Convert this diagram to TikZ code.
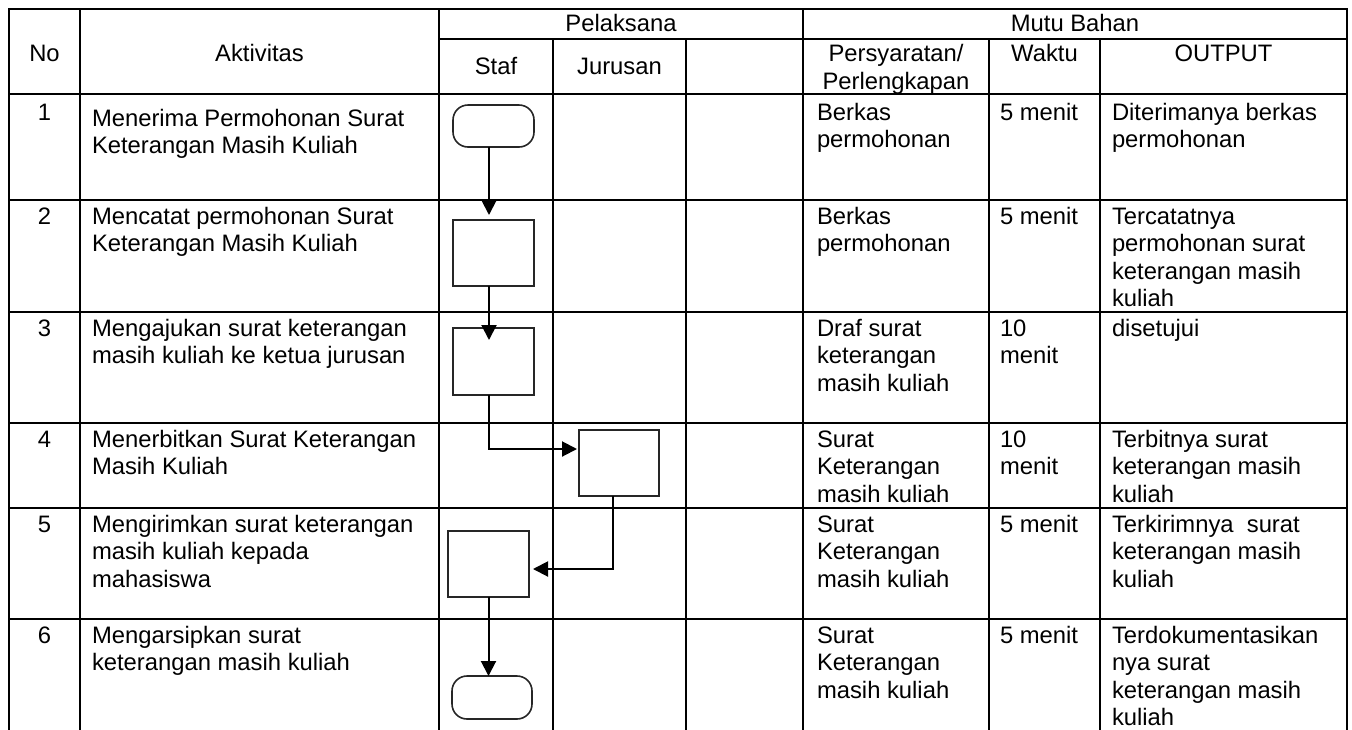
\documentclass[tikz,border=0pt]{standalone}
\usepackage{fontspec}
\setmainfont{Liberation Sans}
\usetikzlibrary{arrows.meta}
\newcommand{\fstrut}{\rule{0pt}{20pt}}
\begin{document}
\begin{tikzpicture}[x=1pt,y=-1pt,
  tbl/.style={line width=2pt, line cap=rect},
  txt/.style={inner sep=0pt, outer sep=0pt, anchor=north west, align=left, font=\fontsize{23.8pt}{27.6pt}\selectfont},
  hdr/.style={txt, anchor=north, align=center},
  proc/.style={draw=black!85, line width=1.6pt, minimum width=81pt, minimum height=66pt, inner sep=0pt, outer sep=0pt},
  term/.style={proc, rounded corners=15pt, minimum height=42pt},
  conn/.style={line width=2pt, -{Triangle[length=15pt,width=15pt]}}]
\useasboundingbox (0,0) rectangle (1352,729);

% ---- table grid ----
\draw[tbl] (9,9) -- (1347,9);
\draw[tbl] (439,39) -- (1347,39);
\foreach \yy in {94,200,312,423,508,619} {\draw[tbl] (9,\yy) -- (1347,\yy);}
\foreach \xx in {9,80,439,803,1347} {\draw[tbl] (\xx,9) -- (\xx,735);}
\foreach \xx in {553,686,989,1100} {\draw[tbl] (\xx,39) -- (\xx,735);}

% ---- header ----
\node[hdr] (hpel) at (621,11.5) {\fstrut Pelaksana};
\node[hdr] (hmutu) at (1075,11.5) {\fstrut Mutu Bahan};
\node[hdr] (hno) at (44.5,41.5) {\fstrut No};
\node[hdr] (hakt) at (259.5,41.5) {\fstrut Aktivitas};
\node[hdr] (hstaf) at (496,54) {\fstrut Staf};
\node[hdr] (hjur) at (619.5,54) {\fstrut Jurusan};
\node[hdr] (hper) at (896,41.5) {\fstrut Persyaratan/\\Perlengkapan};
\node[hdr] (hwak) at (1044.5,41.5) {\fstrut Waktu};
\node[hdr] (hout) at (1223.5,41.5) {\fstrut OUTPUT};

% ---- row 1 ----
\node[hdr] (n1) at (44.5,100) {\fstrut 1};
\node[txt] (a1) at (92,106) {\fstrut Menerima Permohonan Surat\\Keterangan Masih Kuliah};
\node[txt] (p1) at (817,100) {\fstrut Berkas\\permohonan};
\node[txt] (w1) at (1000,100) {\fstrut 5 menit};
\node[txt] (o1) at (1112,100) {\fstrut Diterimanya berkas\\permohonan};

% ---- row 2 ----
\node[hdr] (n2) at (44.5,204) {\fstrut 2};
\node[txt] (a2) at (92,204) {\fstrut Mencatat permohonan Surat\\Keterangan Masih Kuliah};
\node[txt] (p2) at (817,204) {\fstrut Berkas\\permohonan};
\node[txt] (w2) at (1000,204) {\fstrut 5 menit};
\node[txt] (o2) at (1112,204) {\fstrut Tercatatnya\\permohonan surat\\keterangan masih\\kuliah};

% ---- row 3 ----
\node[hdr] (n3) at (44.5,316) {\fstrut 3};
\node[txt] (a3) at (92,316) {\fstrut Mengajukan surat keterangan\\masih kuliah ke ketua jurusan};
\node[txt] (p3) at (817,316) {\fstrut Draf surat\\keterangan\\masih kuliah};
\node[txt] (w3) at (1000,316) {\fstrut 10\\menit};
\node[txt] (o3) at (1112,316) {\fstrut disetujui};

% ---- row 4 ----
\node[hdr] (n4) at (44.5,427) {\fstrut 4};
\node[txt] (a4) at (92,427) {\fstrut Menerbitkan Surat Keterangan\\Masih Kuliah};
\node[txt] (p4) at (817,427) {\fstrut Surat\\Keterangan\\masih kuliah};
\node[txt] (w4) at (1000,427) {\fstrut 10\\menit};
\node[txt] (o4) at (1112,427) {\fstrut Terbitnya surat\\keterangan masih\\kuliah};

% ---- row 5 ----
\node[hdr] (n5) at (44.5,512) {\fstrut 5};
\node[txt] (a5) at (92,512) {\fstrut Mengirimkan surat keterangan\\masih kuliah kepada\\mahasiswa};
\node[txt] (p5) at (817,512) {\fstrut Surat\\Keterangan\\masih kuliah};
\node[txt] (w5) at (1000,512) {\fstrut 5 menit};
\node[txt] (o5) at (1112,512) {\fstrut Terkirimnya~ surat\\keterangan masih\\kuliah};

% ---- row 6 ----
\node[hdr] (n6) at (44.5,623) {\fstrut 6};
\node[txt] (a6) at (92,623) {\fstrut Mengarsipkan surat\\keterangan masih kuliah};
\node[txt] (p6) at (817,623) {\fstrut Surat\\Keterangan\\masih kuliah};
\node[txt] (w6) at (1000,623) {\fstrut 5 menit};
\node[txt] (o6) at (1112,623) {\fstrut Terdokumentasikan\\nya surat\\keterangan masih\\kuliah};

% ---- flow shapes ----
\node[term] (t1) at (493.5,126) {};
\node[proc] (b2) at (493.5,253) {};
\node[proc, minimum height=67pt] (b3) at (493.5,361.5) {};
\node[proc, minimum width=80pt] (b4) at (619,463) {};
\node[proc] (b5) at (488.5,564) {};
\node[term, minimum width=80pt, minimum height=43pt] (t6) at (492,697.5) {};

% ---- connectors ----
\draw[conn, shorten >=5pt] ([xshift=-4.5pt]t1.south) -- ([xshift=-4.5pt]b2.north);
\draw[conn, shorten >=-12pt] ([xshift=-4.5pt]b2.south) -- ([xshift=-4.5pt]b3.north);
\draw[conn, shorten >=2pt] ([xshift=-4.5pt]b3.south) |- ([yshift=14pt]b4.west);
\draw[conn, shorten >=4pt] ([xshift=-6pt]b4.south) |- ([yshift=-5pt]b5.east);
\draw[conn] (b5.south) -- (b5.south |- t6.north);
\end{tikzpicture}
\end{document}
